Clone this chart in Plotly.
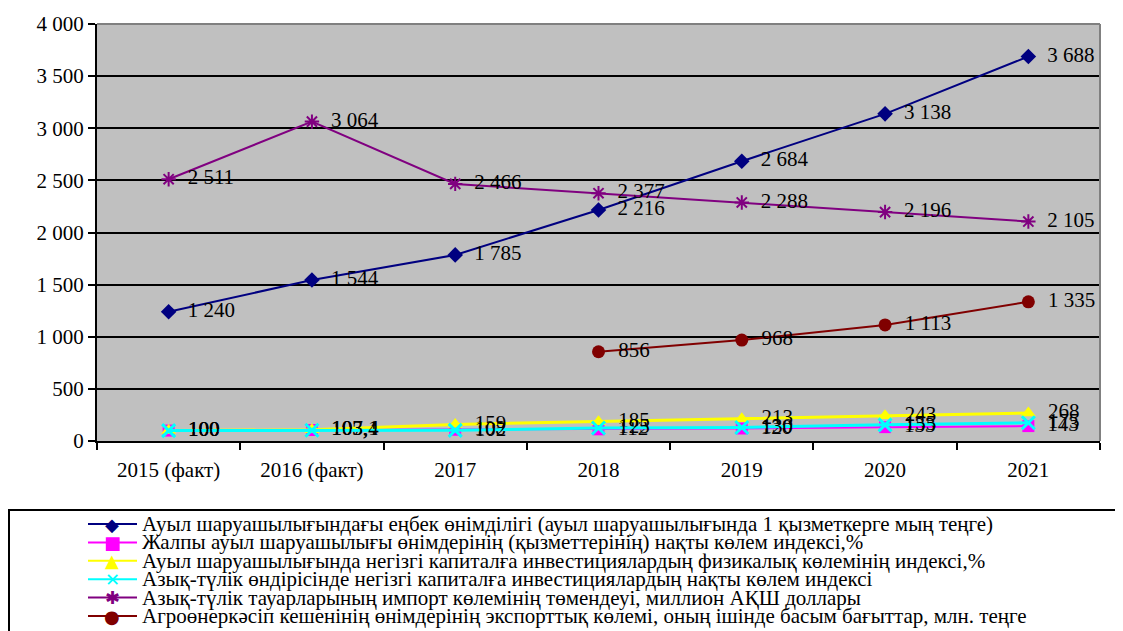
import plotly.graph_objects as go

categories = ["2015 (факт)", "2016 (факт)", "2017", "2018", "2019", "2020", "2021"]

productivity = [1240, 1544, 1785, 2216, 2684, 3138, 3688]
gross_index = [100, 105.4, 108, 112, 120, 133, 143]
agri_invest_index = [100, 107.1, 159, 185, 213, 243, 268]
food_invest_index = [100, 103.4, 102, 125, 130, 155, 175]
food_import = [2511, 3064, 2466, 2377, 2288, 2196, 2105]
agro_export = [None, None, None, 856, 968, 1113, 1335]

series_names = [
    "Ауыл шаруашылығындағы еңбек өнімділігі (ауыл шаруашылығында 1 қызметкерге мың теңге)",
    "Жалпы ауыл шаруашылығы өнімдерінің (қызметтерінің) нақты көлем индексі,%",
    "Ауыл шаруашылығында негізгі капиталға инвестициялардың физикалық көлемінің индексі,%",
    "Азық-түлік өндірісінде негізгі капиталға инвестициялардың нақты көлем индексі",
    "Азық-түлік тауарларының импорт көлемінің төмендеуі, миллион АҚШ доллары",
    "Агроөнеркәсіп кешенінің өнімдерінің экспорттық көлемі, оның ішінде басым бағыттар, млн. теңге",
]

FONT = "Liberation Serif, Times New Roman, serif"

# (values, colour, marker symbol, marker size, line width, legend glyph)
styles = [
    (productivity, "#000080", "diamond", 12, 2, "◆"),
    (gross_index, "#FF00FF", "square", 12, 2, "■"),
    (agri_invest_index, "#FFFF00", "triangle-up", 13, 3, "▲"),
    (food_invest_index, "#00FFFF", "x-thin-open", 13, 3, "✕"),
    (food_import, "#800080", "asterisk-open", 12, 2, "✱"),
    (agro_export, "#800000", "circle", 13, 2, "●"),
]

# page body has an 8px margin, so the figure is drawn 8px in from the corner
W, H = 1115, 623
ML, MR, MT, MB = 89, 23, 16, 190
PW, PH = W - ML - MR, H - MT - MB


def px_x(x):
    return (x - 8 - ML) / PW


def px_y(y):
    return (H - MB + 8 - y) / PH


fig = go.Figure()

for name, (vals, color, sym, size, lw, _) in zip(series_names, styles):
    marker = dict(symbol=sym, size=size, color=color)
    if sym.endswith("open"):
        marker["line"] = dict(color=color, width=3 if "x" in sym else 2)
    fig.add_trace(
        go.Scatter(
            x=categories,
            y=vals,
            name=name,
            mode="lines+markers+text",
            line=dict(color=color, width=lw),
            marker=marker,
            texttemplate="  %{y:,.6~g}",
            textposition="middle right",
            textfont=dict(family=FONT, size=21, color="black"),
            showlegend=False,
            cliponaxis=False,
        )
    )

shapes = [
    # legend frame, runs off the right and bottom edges like the source
    dict(type="rect", xref="paper", yref="paper",
         x0=px_x(9), x1=px_x(1140), y0=px_y(660), y1=px_y(510),
         line=dict(color="black", width=2), layer="above"),
    # grey top/right edge of the plot area
    dict(type="line", xref="paper", yref="paper", x0=0, x1=1, y0=1, y1=1,
         line=dict(color="#808080", width=2)),
    dict(type="line", xref="paper", yref="paper", x0=1, x1=1, y0=0, y1=1,
         line=dict(color="#808080", width=2)),
]
annotations = []
row_y0, row_step = 524, 18.4
for i, (name, (_, color, _, _, _, glyph)) in enumerate(zip(series_names, styles)):
    yp = px_y(row_y0 + i * row_step)
    shapes.append(dict(type="line", xref="paper", yref="paper",
                       x0=px_x(88), x1=px_x(137), y0=yp, y1=yp,
                       line=dict(color=color, width=2)))
    annotations.append(dict(xref="paper", yref="paper", x=px_x(112), y=yp,
                            text=glyph, showarrow=False, xanchor="center", yanchor="middle",
                            font=dict(family="DejaVu Sans", size=18, color=color)))
    annotations.append(dict(xref="paper", yref="paper", x=px_x(140), y=yp,
                            text=name, showarrow=False, xanchor="left", yanchor="middle",
                            font=dict(family=FONT, size=21, color="black")))

fig.update_layout(
    width=W,
    height=H,
    margin=dict(l=ML, r=MR, t=MT, b=MB),
    paper_bgcolor="white",
    plot_bgcolor="#C0C0C0",
    separators=", ",
    font=dict(family=FONT, size=21, color="black"),
    shapes=shapes,
    annotations=annotations,
)

fig.update_xaxes(
    type="category",
    range=[-0.5, 6.5],
    automargin=False,
    showgrid=False,
    showline=True,
    linecolor="black",
    linewidth=2,
    ticks="outside",
    tickson="boundaries",
    ticklen=7,
    tickwidth=2,
    tickcolor="black",
    ticklabelstandoff=9,
    tickfont=dict(family=FONT, size=21),
)
fig.update_yaxes(
    range=[0, 4000],
    dtick=500,
    tickformat=",",
    automargin=False,
    showgrid=True,
    gridcolor="black",
    gridwidth=2,
    showline=True,
    linecolor="black",
    linewidth=2,
    ticks="outside",
    ticklen=7,
    tickwidth=2,
    tickcolor="black",
    zeroline=False,
    tickfont=dict(family=FONT, size=21),
)

fig.write_html("out.html")
